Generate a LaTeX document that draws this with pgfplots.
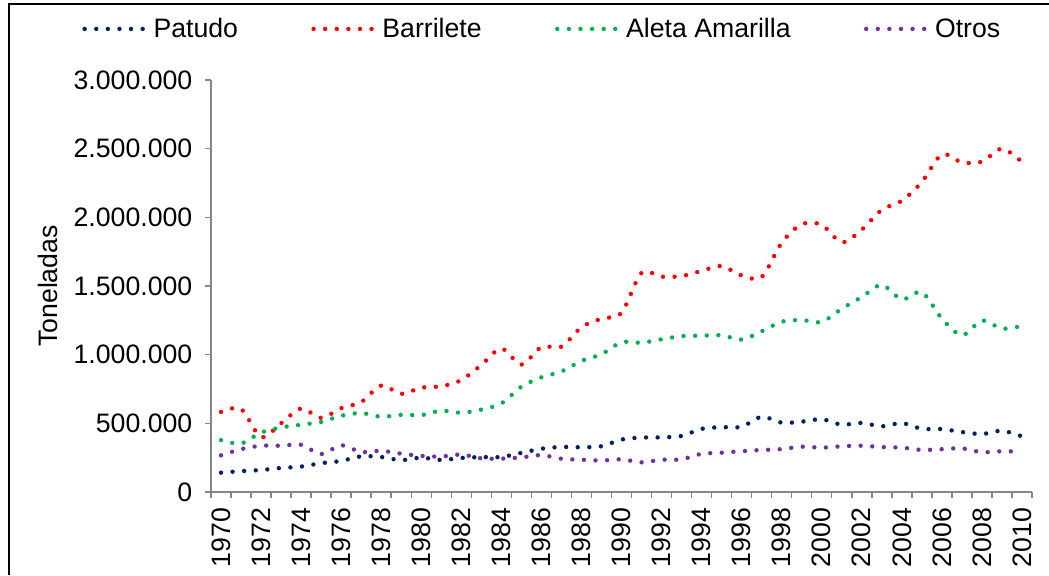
\documentclass[border=0pt]{standalone}
\usepackage{fontspec}
\setmainfont{Liberation Sans}
\usepackage{pgfplots}
\pgfplotsset{compat=1.18}
\definecolor{patudo}{HTML}{002060}
\definecolor{barrilete}{HTML}{FF0000}
\definecolor{aleta}{HTML}{00B050}
\definecolor{otros}{HTML}{7030A0}
\definecolor{axisgray}{HTML}{868686}
\newcommand\ff{\fontsize{20}{24}\selectfont}

\pgfplotstableread{
year patudo barrilete aleta otros
1970 141 583 378 267
1971 152 605 353 312
1972 160 400 433 337
1973 175 500 470 337
1974 185 608 490 344
1975 210 540 510 276
1976 226 610 555 340
1977 260 655 575 291
1978 255 775 548 300
1979 232 715 562 279
1980 250 760 560 263
1981 233 770 592 258
1982 248 815 577 273
1983 254 925 600 245
1984 255 1045 645 243
1985 285 928 767 252
1986 315 1056 835 269
1987 328 1058 878 242
1988 326 1200 955 235
1989 333 1262 1003 229
1990 382 1305 1090 238
1991 396 1595 1087 216
1992 398 1568 1112 235
1993 408 1572 1135 238
1994 460 1610 1138 278
1995 472 1645 1141 286
1996 475 1577 1110 297
1997 548 1565 1170 306
1998 505 1815 1240 312
1999 512 1950 1252 330
2000 530 1945 1238 323
2001 490 1818 1335 333
2002 503 1910 1420 337
2003 478 2055 1508 327
2004 502 2120 1402 323
2005 460 2258 1455 306
2006 458 2458 1262 312
2007 437 2400 1141 318
2008 422 2405 1248 290
2009 446 2500 1190 297
2010 405 2403 1209 293
}\datatable

\begin{document}
\begin{tikzpicture}
\path[use as bounding box] (0,0) rectangle (786.75pt,431.25pt);
\begin{axis}[
    at={(158.25pt,62.25pt)}, anchor=south west,
    scale only axis, width=615.75pt, height=309pt,
    xmin=1969.5, xmax=2010.5, ymin=0, ymax=3000,
    axis x line*=bottom, axis y line*=left,
    axis line style={draw=axisgray, line width=1.2pt, -},
    tick align=outside, major tick length=4.5pt,
    tick style={draw=axisgray, line width=1.1pt},
    ytick={0,500,1000,1500,2000,2500,3000},
    yticklabels={0,500.000,1.000.000,1.500.000,2.000.000,2.500.000,3.000.000},
    yticklabel style={xshift=-6pt},
    xtick={1969.5,1970.5,...,2010.5}, xticklabels={},
    extra x ticks={1970,1972,...,2010},
    extra x tick labels={1970,1972,1974,1976,1978,1980,1982,1984,1986,1988,1990,1992,1994,1996,1998,2000,2002,2004,2006,2008,2010},
    extra x tick style={major tick length=0pt},
    xticklabel style={rotate=90, anchor=east, xshift=-8.5pt},
    tick label style={font=\ff},
    ylabel={Toneladas},
    every axis y label/.style={at={(axis description cs:-0.1985,0.5)}, rotate=90, anchor=center, font=\ff},
    legend style={at={(axis description cs:0.404,1.124)}, anchor=center, draw=none, fill=none, font=\ff,
        /tikz/every even column/.append style={column sep=53pt}},
    legend columns=4,
    legend cell align=left,
    legend image code/.code={\draw[#1] (0pt,0pt) -- (48pt,0pt);},
    every axis plot/.append style={line width=3.3pt, line cap=round, dash pattern=on 0pt off 8.7pt, smooth},
]
\addplot[patudo] table[x=year, y=patudo] {\datatable};
\addlegendentry{Patudo}
\addplot[barrilete] table[x=year, y=barrilete] {\datatable};
\addlegendentry{Barrilete}
\addplot[aleta] table[x=year, y=aleta] {\datatable};
\addlegendentry{Aleta Amarilla}
\addplot[otros] table[x=year, y=otros] {\datatable};
\addlegendentry{Otros}
\end{axis}
\draw[line width=1.5pt] (7.1pt,0) -- (7.1pt,427.9pt) -- (786.75pt,427.9pt);
\end{tikzpicture}
\end{document}
